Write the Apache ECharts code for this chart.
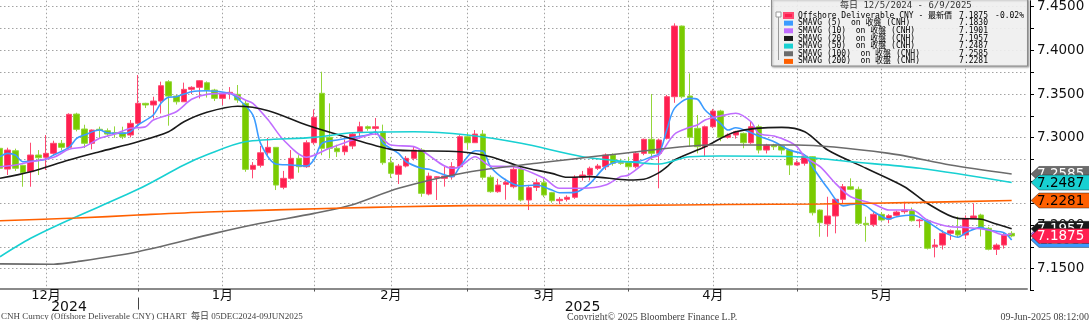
<!DOCTYPE html>
<html><head><meta charset="utf-8">
<script src="https://cdn.jsdelivr.net/npm/echarts@6/dist/echarts.min.js"></script>
<style>html,body{margin:0;padding:0;background:#fff}#c{width:1089px;height:320px}</style>
</head><body><div id="c"></div>
<script>
// trading days
const dates = [
'2024-12-05','2024-12-06','2024-12-09','2024-12-10','2024-12-11','2024-12-12','2024-12-13','2024-12-16','2024-12-17','2024-12-18','2024-12-19','2024-12-20','2024-12-23','2024-12-24','2024-12-25','2024-12-26','2024-12-27','2024-12-30','2024-12-31',
'2025-01-01','2025-01-02','2025-01-03','2025-01-06','2025-01-07','2025-01-08','2025-01-09','2025-01-10','2025-01-13','2025-01-14','2025-01-15','2025-01-16','2025-01-17','2025-01-20','2025-01-21','2025-01-22','2025-01-23','2025-01-24','2025-01-27','2025-01-28','2025-01-29','2025-01-30','2025-01-31',
'2025-02-03','2025-02-04','2025-02-05','2025-02-06','2025-02-07','2025-02-10','2025-02-11','2025-02-12','2025-02-13','2025-02-14','2025-02-17','2025-02-18','2025-02-19','2025-02-20','2025-02-21','2025-02-24','2025-02-25','2025-02-26','2025-02-27','2025-02-28',
'2025-03-03','2025-03-04','2025-03-05','2025-03-06','2025-03-07','2025-03-10','2025-03-11','2025-03-12','2025-03-13','2025-03-14','2025-03-17','2025-03-18','2025-03-19','2025-03-20','2025-03-21','2025-03-24','2025-03-25','2025-03-26','2025-03-27','2025-03-28','2025-03-31',
'2025-04-01','2025-04-02','2025-04-03','2025-04-04','2025-04-07','2025-04-08','2025-04-09','2025-04-10','2025-04-11','2025-04-14','2025-04-15','2025-04-16','2025-04-17','2025-04-18','2025-04-21','2025-04-22','2025-04-23','2025-04-24','2025-04-25','2025-04-28','2025-04-29','2025-04-30',
'2025-05-01','2025-05-02','2025-05-05','2025-05-06','2025-05-07','2025-05-08','2025-05-09','2025-05-12','2025-05-13','2025-05-14','2025-05-15','2025-05-16','2025-05-19','2025-05-20','2025-05-21','2025-05-22','2025-05-23','2025-05-26','2025-05-27','2025-05-28','2025-05-29','2025-05-30',
'2025-06-02','2025-06-03','2025-06-04','2025-06-05','2025-06-06','2025-06-09'
];
// [open, close, low, high]
const ohlc = [
[7.2879,7.2650,7.2620,7.2900],[7.2641,7.2859,7.2573,7.2886],[7.2851,7.2650,7.2620,7.2875],[7.2684,7.2599,7.2439,7.2690],[7.2611,7.2802,7.2439,7.2943],
[7.2802,7.2771,7.2573,7.2859],[7.2776,7.2821,7.2630,7.3031],[7.2821,7.2936,7.2803,7.2966],[7.2936,7.2890,7.2857,7.2974],[7.2890,7.3268,7.2859,7.3280],
[7.3271,7.3096,7.3073,7.3286],[7.3100,7.2936,7.2882,7.3149],[7.2936,7.3088,7.2867,7.3095],[7.3097,7.3085,7.2990,7.3127],[7.3080,7.3042,7.3012,7.3107],
[7.3057,7.3045,7.3000,7.3130],[7.3057,7.3011,7.2984,7.3126],[7.3031,7.3165,7.3004,7.3203],[7.3165,7.3394,7.3126,7.3718],[7.3394,7.3375,7.3340,7.3400],
[7.3375,7.3420,7.3220,7.3470],[7.3420,7.3596,7.3277,7.3642],[7.3641,7.3477,7.3138,7.3660],[7.3477,7.3412,7.3380,7.3490],[7.3412,7.3554,7.3412,7.3631],
[7.3554,7.3577,7.3500,7.3590],[7.3577,7.3653,7.3450,7.3660],[7.3630,7.3546,7.3460,7.3645],[7.3546,7.3451,7.3420,7.3560],[7.3451,7.3508,7.3374,7.3520],
[7.3508,7.3520,7.3440,7.3580],[7.3497,7.3432,7.3400,7.3604],[7.3394,7.2638,7.2610,7.3430],[7.2638,7.2684,7.2535,7.2721],[7.2684,7.2828,7.2660,7.2906],
[7.2828,7.2890,7.2800,7.2997],[7.2890,7.2458,7.2401,7.2890],[7.2432,7.2535,7.2410,7.2620],[7.2535,7.2764,7.2520,7.2859],[7.2764,7.2668,7.2600,7.2800],
[7.2668,7.2943,7.2655,7.2970],[7.2943,7.3234,7.2920,7.3325],[7.3509,7.2879,7.2800,7.3756],[7.3005,7.2879,7.2764,7.3394],[7.2879,7.2840,7.2780,7.2920],
[7.2840,7.2905,7.2800,7.2980],[7.2905,7.3042,7.2870,7.3060],[7.3069,7.3126,7.2990,7.3183],[7.3126,7.3107,7.3080,7.3140],[7.3107,7.3126,7.3030,7.3226],
[7.3069,7.2714,7.2690,7.3150],[7.2714,7.2592,7.2540,7.2780],[7.2581,7.2676,7.2470,7.2700],[7.2676,7.2764,7.2660,7.2790],[7.2764,7.2859,7.2740,7.2900],
[7.2859,7.2363,7.2324,7.2880],[7.2355,7.2561,7.2340,7.2600],[7.2542,7.2553,7.2287,7.2560],[7.2535,7.2561,7.2440,7.2670],[7.2553,7.2668,7.2520,7.2720],
[7.2668,7.3012,7.2650,7.3030],[7.3012,7.2943,7.2870,7.3060],[7.2943,7.3042,7.2940,7.3088],[7.3042,7.2547,7.2520,7.3088],[7.2547,7.2382,7.2370,7.2570],
[7.2382,7.2458,7.2370,7.2530],[7.2466,7.2489,7.2290,7.2530],[7.2439,7.2638,7.2420,7.2670],[7.2638,7.2287,7.2270,7.2670],[7.2287,7.2428,7.2172,7.2460],
[7.2432,7.2485,7.2390,7.2530],[7.2485,7.2344,7.2320,7.2530],[7.2371,7.2279,7.2256,7.2380],[7.2279,7.2295,7.2240,7.2320],[7.2295,7.2318,7.2270,7.2340],
[7.2318,7.2547,7.2300,7.2570],[7.2547,7.2573,7.2510,7.2620],[7.2573,7.2650,7.2510,7.2670],[7.2650,7.2676,7.2630,7.2700],[7.2668,7.2802,7.2630,7.2820],
[7.2802,7.2707,7.2680,7.2820],[7.2714,7.2707,7.2690,7.2760],[7.2714,7.2668,7.2630,7.2780],[7.2668,7.2821,7.2650,7.2840],[7.2821,7.2982,7.2800,7.2990],
[7.2982,7.2821,7.2745,7.3500],[7.2821,7.2974,7.2421,7.2990],[7.2993,7.3470,7.2980,7.3490],[7.3470,7.4279,7.3400,7.4310],[7.4279,7.3470,7.3451,7.4285],
[7.3478,7.3005,7.2897,7.3737],[7.3108,7.2897,7.2821,7.3260],[7.2897,7.3126,7.2783,7.3140],[7.3126,7.3306,7.3110,7.3330],[7.3306,7.3005,7.2960,7.3320],
[7.3005,7.3031,7.2990,7.3050],[7.3031,7.3069,7.2990,7.3080],[7.3050,7.2943,7.2880,7.3060],[7.2943,7.3126,7.2930,7.3180],[7.3126,7.2859,7.2820,7.3150],
[7.2859,7.2916,7.2820,7.2930],[7.2916,7.2897,7.2860,7.2930],[7.2905,7.2859,7.2810,7.2910],[7.2859,7.2688,7.2573,7.2870],[7.2688,7.2714,7.2680,7.2740],
[7.2707,7.2790,7.2680,7.2800],[7.2783,7.2141,7.2110,7.2790],[7.2172,7.2027,7.1866,7.2180],[7.2012,7.2104,7.1866,7.2324],[7.2104,7.2295,7.1905,7.2300],
[7.2295,7.2439,7.2250,7.2470],[7.2439,7.2409,7.2400,7.2535],[7.2409,7.2020,7.2000,7.2440],[7.2020,7.2004,7.1809,7.2096],[7.2004,7.2123,7.1980,7.2150],
[7.2123,7.2058,7.2050,7.2150],[7.2069,7.2107,7.2020,7.2125],[7.2111,7.2149,7.2100,7.2165],[7.2153,7.2172,7.2130,7.2267],[7.2164,7.2050,7.2040,7.2200],
[7.2050,7.2058,7.1970,7.2070],[7.2050,7.1734,7.1720,7.2070],[7.1752,7.1771,7.1630,7.1840],[7.1771,7.1905,7.1720,7.1940],[7.1905,7.1935,7.1830,7.1950],
[7.1935,7.1886,7.1860,7.2096],[7.1886,7.2077,7.1840,7.2110],[7.2077,7.2104,7.2070,7.2249],[7.2115,7.1963,7.1870,7.2130],[7.1963,7.1722,7.1710,7.1980],
[7.1722,7.1771,7.1657,7.1790],[7.1771,7.1889,7.1730,7.1920],[7.1905,7.1875,7.1860,7.1930]
];
// moving averages: [day index, value]
const ma5 = [[0,7.2783],[1,7.2821],[2,7.2802],[3,7.2725],[4,7.2730],[6,7.2753],[7,7.2802],[9,7.2890],[10,7.2993],[11,7.3031],[13,7.3088],[14,7.3057],[16,7.3050],[17,7.3069],[18,7.3146],[20,7.3260],[21,7.3394],[22,7.3463],[23,7.3470],[25,7.3527],[27,7.3538],[30,7.3508],[31,7.3451],[33,7.3260],[34,7.2936],[36,7.2699],[38,7.2688],[40,7.2676],[41,7.2753],[42,7.2936],[44,7.2974],[46,7.3005],[48,7.3031],[49,7.3069],[50,7.2936],[52,7.2821],[53,7.2725],[55,7.2650],[56,7.2638],[59,7.2553],[60,7.2668],[62,7.2851],[63,7.2847],[64,7.2668],[66,7.2516],[68,7.2447],[70,7.2458],[72,7.2401],[73,7.2370],[75,7.2374],[77,7.2478],[79,7.2668],[81,7.2725],[83,7.2725],[85,7.2783],[86,7.2821],[87,7.3088],[88,7.3336],[90,7.3451],[91,7.3440],[92,7.3317],[94,7.3165],[95,7.3088],[96,7.3115],[98,7.3057],[99,7.3019],[101,7.2954],[103,7.2859],[105,7.2802],[106,7.2668],[108,7.2421],[110,7.2220],[111,7.2235],[112,7.2245],[113,7.2220],[114,7.2153],[116,7.2068],[117,7.2096],[119,7.2115],[121,7.2038],[123,7.1924],[125,7.1860],[126,7.1912],[128,7.1974],[129,7.1943],[131,7.1912],[132,7.1830]];
const ma10 = [[0,7.2668],[2,7.2688],[4,7.2725],[7,7.2776],[9,7.2867],[11,7.2897],[13,7.2993],[15,7.3042],[17,7.3108],[19,7.3126],[20,7.3203],[23,7.3298],[25,7.3440],[27,7.3497],[30,7.3508],[32,7.3432],[33,7.3394],[35,7.3203],[37,7.2974],[40,7.2776],[43,7.2879],[46,7.2974],[49,7.3042],[51,7.2916],[54,7.2898],[59,7.2650],[60,7.2668],[62,7.2783],[64,7.2676],[67,7.2668],[71,7.2535],[73,7.2421],[76,7.2421],[79,7.2458],[81,7.2555],[82,7.2573],[85,7.2770],[86,7.2800],[88,7.3040],[90,7.3119],[91,7.3146],[92,7.3203],[94,7.3249],[96,7.3280],[98,7.3183],[99,7.3050],[101,7.3019],[103,7.2954],[104,7.2897],[105,7.2783],[107,7.2668],[109,7.2478],[111,7.2324],[114,7.2241],[116,7.2172],[119,7.2172],[121,7.2058],[124,7.1981],[126,7.1974],[129,7.1943],[131,7.1886],[132,7.1901]];
const ma20 = [[0,7.2535],[4,7.2611],[9,7.2745],[13,7.2840],[18,7.2954],[22,7.3069],[24,7.3183],[27,7.3291],[31,7.3360],[35,7.3310],[40,7.3146],[45,7.3012],[51,7.2867],[54,7.2851],[60,7.2840],[64,7.2783],[68,7.2668],[72,7.2592],[74,7.2547],[77,7.2555],[82,7.2516],[84,7.2524],[86,7.2600],[87,7.2665],[88,7.2745],[92,7.2897],[96,7.3069],[102,7.3119],[105,7.3069],[108,7.2859],[113,7.2650],[118,7.2439],[121,7.2249],[125,7.2077],[128,7.2066],[130,7.2012],[132,7.1957]];
const ma50 = [[0,7.1637],[4,7.1848],[9,7.2058],[18,7.2409],[24,7.2688],[27,7.2805],[32,7.2954],[41,7.3004],[46,7.3057],[54,7.3069],[61,7.3031],[68,7.2936],[76,7.2783],[82,7.2725],[86,7.2699],[90,7.2783],[94,7.2790],[104,7.2783],[111,7.2725],[120,7.2650],[132,7.2487]];
const ma100 = [[0,7.1555],[7,7.1552],[10,7.1580],[18,7.1695],[28,7.1905],[34,7.2020],[41,7.2134],[46,7.2233],[52,7.2421],[61,7.2605],[70,7.2707],[82,7.2828],[93,7.2916],[104,7.2916],[116,7.2821],[124,7.2688],[132,7.2585]];
const ma200 = [[0,7.2050],[10,7.2080],[18,7.2115],[27,7.2150],[45,7.2195],[52,7.2210],[61,7.2222],[82,7.2225],[95,7.2235],[107,7.2242],[120,7.2260],[132,7.2281]];

const monthIdx = [6, 29, 51, 71, 93, 115];
const monthLabels = ['12月', '1月', '2月', '3月', '4月', '5月'];
const monthEndIdx = [18, 41, 61, 82, 104, 126];
const yearIdx = [9, 76];
const yearLabels = ['2024', '2025'];
const yearSplitIdx = [18];

const seriesNames = ['Offshore Deliverable CNY - 最新價', 'SMAVG (5)  on 收盤 (CNH)', 'SMAVG (10)  on 收盤 (CNH)', 'SMAVG (20)  on 收盤 (CNH)', 'SMAVG (50)  on 收盤 (CNH)', 'SMAVG (100)  on 收盤 (CNH)', 'SMAVG (200)  on 收盤 (CNH)'];
const lastValues = ['7.1875', '7.1830', '7.1901', '7.1957', '7.2487', '7.2585', '7.2281'];
const lastChange = '-0.02%';
const colors = ['#ff1f4f', '#3b9bff', '#c06dff', '#1a1a1a', '#18d0d2', '#6b6b6b', '#ff6000'];
const tagText = ['#ffffff', '#ffffff', '#ffffff', '#ffffff', '#000000', '#ffffff', '#000000'];
const tagOrder = [5, 4, 6, 2, 3, 1, 0];

const headerText = '每日 12/5/2024 - 6/9/2025';
const footerLeft = 'CNH Curncy (Offshore Deliverable CNY) CHART  每日 05DEC2024-09JUN2025';
const footerMid = 'Copyright© 2025 Bloomberg Finance L.P.';
const footerRight = '09-Jun-2025 08:12:00';

const MONO = '"DejaVu Sans Mono", "Noto Sans CJK TC", monospace';
const SANS = '"DejaVu Sans", "Noto Sans CJK SC", sans-serif';
const SERIF = '"Liberation Serif", "Noto Sans CJK SC", serif';

const xData = dates.concat(['', '']);
const lastIdx = dates.length - 1;
const maList = [ma5, ma10, ma20, ma50, ma100, ma200];
const gridLineIdx = monthIdx.concat(monthEndIdx);
const AXIS_SHIFT = 3;

const chart = echarts.init(document.getElementById('c'), null, {renderer: 'canvas'});

const lineSeries = maList.map((d, i) => ({
  name: seriesNames[i + 1], type: 'line', data: d, showSymbol: false, symbol: 'none',
  smooth: 0.3, z: 3, silent: true,
  lineStyle: {color: colors[i + 1], width: 1.6},
  itemStyle: {color: colors[i + 1]}
}));

const tagData = tagOrder.map(k => [lastIdx, parseFloat(lastValues[k]), k]);

const option = {
  animation: false,
  backgroundColor: '#ffffff',
  grid: {left: 0, right: 62, top: 0, bottom: 29.45, containLabel: false},
  title: [
    {text: headerText, left: 840, top: 1.5, padding: 0, z: 7, textStyle: {fontFamily: MONO, fontSize: 9, fontWeight: 'normal', color: '#333'}},
    {text: footerLeft, left: 1, top: 312, padding: 0, textStyle: {fontFamily: SERIF, fontSize: 9, fontWeight: 'normal', color: '#444'}},
    {text: footerMid, left: 567, top: 312, padding: 0, textStyle: {fontFamily: SERIF, fontSize: 10, fontWeight: 'normal', color: '#444'}},
    {text: footerRight, right: 0, top: 312, padding: 0, textStyle: {fontFamily: SERIF, fontSize: 10, fontWeight: 'normal', color: '#444'}}
  ],
  legend: {
    orient: 'vertical', left: 783, top: 11.5, itemWidth: 9, itemHeight: 5, itemGap: -0.35, padding: 0,
    icon: 'rect', selectedMode: false, z: 7, data: seriesNames,
    formatter: function (name) {
      const i = seriesNames.indexOf(name);
      return '{n|' + name + '}{v|' + lastValues[i] + '}' + (i === 0 ? '{p|' + lastChange + '}' : '');
    },
    textStyle: {
      fontFamily: MONO, fontSize: 8, color: '#000', lineHeight: 7,
      rich: {
        n: {width: 158, fontFamily: MONO, fontSize: 8, lineHeight: 7, color: '#000'},
        v: {width: 32, align: 'right', fontFamily: MONO, fontSize: 8, lineHeight: 7, color: '#000'},
        p: {width: 36, align: 'right', fontFamily: MONO, fontSize: 8, lineHeight: 7, color: '#000'}
      }
    }
  },
  graphic: [
    {type: 'rect', z: 5, zlevel: 0, shape: {x: 771.5, y: -1, width: 256, height: 67},
     style: {fill: 'rgba(248,248,248,0.88)', stroke: '#8c8c8c', lineWidth: 1, shadowBlur: 2, shadowOffsetX: 1, shadowOffsetY: 1, shadowColor: 'rgba(0,0,0,0.35)'}},
    {type: 'line', z: 6, shape: {x1: 778.5, y1: 17, x2: 778.5, y2: 60}, style: {stroke: '#999', lineWidth: 1}},
    {type: 'rect', z: 6, shape: {x: 776, y: 12, width: 5, height: 5}, style: {fill: '#fff', stroke: '#999', lineWidth: 1}}
  ],
  xAxis: [
    {
      type: 'category', data: xData, boundaryGap: false, position: 'bottom', offset: -2,
      axisLine: {show: true, lineStyle: {color: '#8a8a8a', width: 2}},
      axisTick: {show: true, length: 3, interval: i => monthEndIdx.indexOf(i) >= 0, lineStyle: {color: '#555'}},
      axisLabel: {show: true, interval: i => monthIdx.indexOf(i) >= 0, margin: 1,
        formatter: (v, i) => { const k = monthIdx.indexOf(i); return k >= 0 ? monthLabels[k] : ''; },
        fontFamily: SANS, fontSize: 13, color: '#111'},
      splitLine: {show: true, interval: i => gridLineIdx.indexOf(i) >= 0,
        lineStyle: {color: '#a3a3a3', width: 1, type: [1.5, 2.5]}}
    },
    {
      type: 'category', data: xData, boundaryGap: false, position: 'bottom', offset: 7, gridIndex: 0,
      axisLine: {show: false},
      axisTick: {show: true, length: 12, interval: i => yearSplitIdx.indexOf(i) >= 0, lineStyle: {color: '#444'}},
      axisLabel: {show: true, interval: i => yearIdx.indexOf(i) >= 0, margin: 2.5,
        formatter: (v, i) => { const k = yearIdx.indexOf(i); return k >= 0 ? yearLabels[k] : ''; },
        fontFamily: SANS, fontSize: 14, color: '#111'},
      splitLine: {show: false}
    }
  ],
  yAxis: {
    type: 'value', position: 'right', offset: AXIS_SHIFT, min: 7.125, max: 7.4569, interval: 0.025, scale: true,
    axisLine: {show: true, lineStyle: {color: '#000', width: 1}},
    axisTick: {show: true, length: 4, lineStyle: {color: '#000'}},
    axisLabel: {margin: 7, fontFamily: SANS, fontSize: 13.5, color: '#111', showMaxLabel: false,
      formatter: v => (Math.round(v * 1000) % 50 === 0 ? v.toFixed(4) : '')},
    splitLine: {show: true, showMinLine: false, showMaxLine: false, lineStyle: {color: '#a3a3a3', width: 1, type: [1.5, 2.5]}}
  },
  series: [
    {
      name: seriesNames[0], type: 'candlestick', data: ohlc, barWidth: 6, z: 2, silent: true,
      itemStyle: {color: '#ff1f4f', color0: '#7acb00', borderColor: '#ff4a72', borderColor0: '#94d63a', borderWidth: 1}
    }
  ].concat(lineSeries).concat([
    {
      name: 'tags', type: 'custom', data: tagData, z: 10, silent: true, clip: false,
      encode: {x: 0, y: 1},
      renderItem: function (params, api) {
        const v = api.value(1);
        const k = api.value(2);
        const y = api.coord([0, v])[1];
        const x = params.coordSys.x + params.coordSys.width + AXIS_SHIFT;
        return {
          type: 'group', children: [
            {type: 'polygon', shape: {points: [[x + 1, y], [x + 9, y - 7.5], [x + 64, y - 7.5], [x + 64, y + 7.5], [x + 9, y + 7.5]]},
             style: {fill: colors[k], stroke: 'rgba(40,40,40,0.8)', lineWidth: 0.6}},
            {type: 'text', style: {text: lastValues[k], x: x + 7, y: y + 0.5, verticalAlign: 'middle', align: 'left',
              fill: tagText[k], font: '13.5px "DejaVu Sans", sans-serif'}}
          ]
        };
      }
    }
  ])
};
chart.setOption(option);
</script>
</body></html>
